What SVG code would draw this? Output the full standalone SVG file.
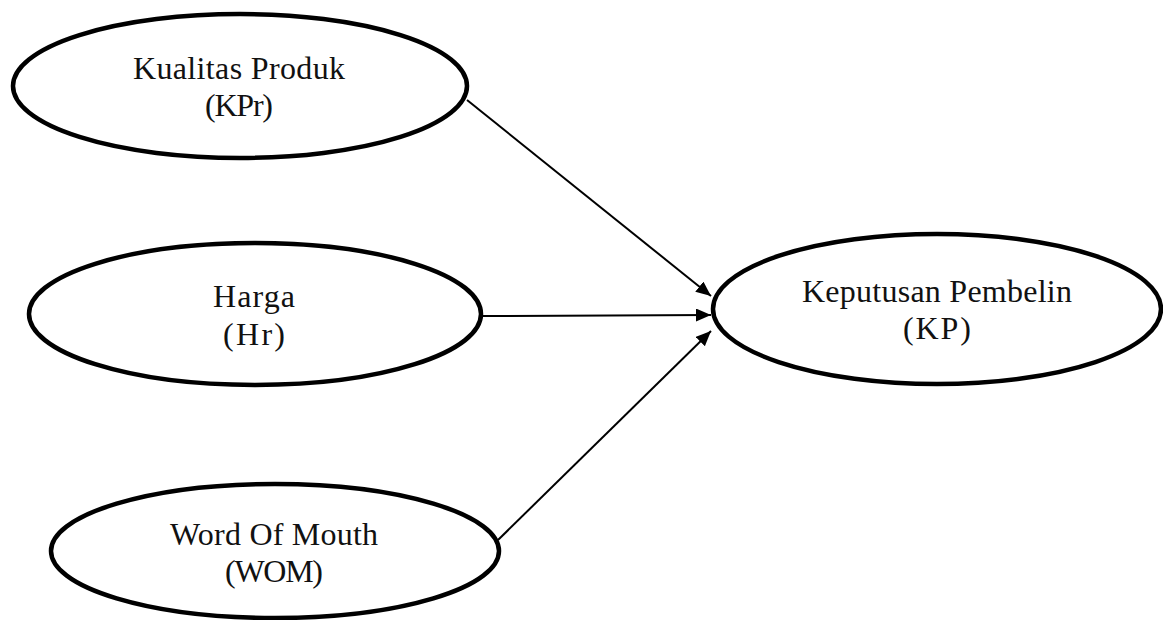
<svg xmlns="http://www.w3.org/2000/svg" width="1163" height="620" viewBox="0 0 1163 620">
<style>
.node ellipse{fill:#fff;stroke:#000;stroke-width:4.5}
.node text{font-family:"Liberation Serif","Times New Roman",serif;font-size:32px;fill:#111;text-anchor:middle}
.edge{stroke:#000;stroke-width:2;fill:none;marker-end:url(#arr)}
</style>
<defs>
<marker id="arr" markerUnits="userSpaceOnUse" markerWidth="16" markerHeight="14" refX="15" refY="6.5" orient="auto">
<path d="M0,0 L15,6.5 L0,13 z" fill="#000"/>
</marker>
</defs>
<rect width="1163" height="620" fill="#fff"/>
<g id="connectors">
<line class="edge" x1="467" y1="100" x2="711" y2="296"/>
<line class="edge" x1="482" y1="316" x2="711" y2="315"/>
<line class="edge" x1="498" y1="540" x2="711" y2="331"/>
</g>
<g id="kpr" class="node">
<ellipse cx="240" cy="86" rx="227" ry="72"/>
<text x="239" y="79" textLength="212" lengthAdjust="spacing">Kualitas Produk</text>
<text x="239" y="116" textLength="68" lengthAdjust="spacing">(KPr)</text>
</g>
<g id="hr" class="node">
<ellipse cx="255" cy="314" rx="226" ry="71"/>
<text x="254" y="307" textLength="82" lengthAdjust="spacing">Harga</text>
<text x="254" y="345" textLength="62" lengthAdjust="spacing">(Hr)</text>
</g>
<g id="wom" class="node">
<ellipse cx="275" cy="551" rx="224" ry="67"/>
<text x="274" y="545" textLength="208" lengthAdjust="spacing">Word Of Mouth</text>
<text x="274" y="582" textLength="98" lengthAdjust="spacing">(WOM)</text>
</g>
<g id="kp" class="node">
<ellipse cx="937" cy="309" rx="224" ry="75"/>
<text x="937" y="302" textLength="270" lengthAdjust="spacing">Keputusan Pembelin</text>
<text x="937" y="339" textLength="68" lengthAdjust="spacing">(KP)</text>
</g>
</svg>
